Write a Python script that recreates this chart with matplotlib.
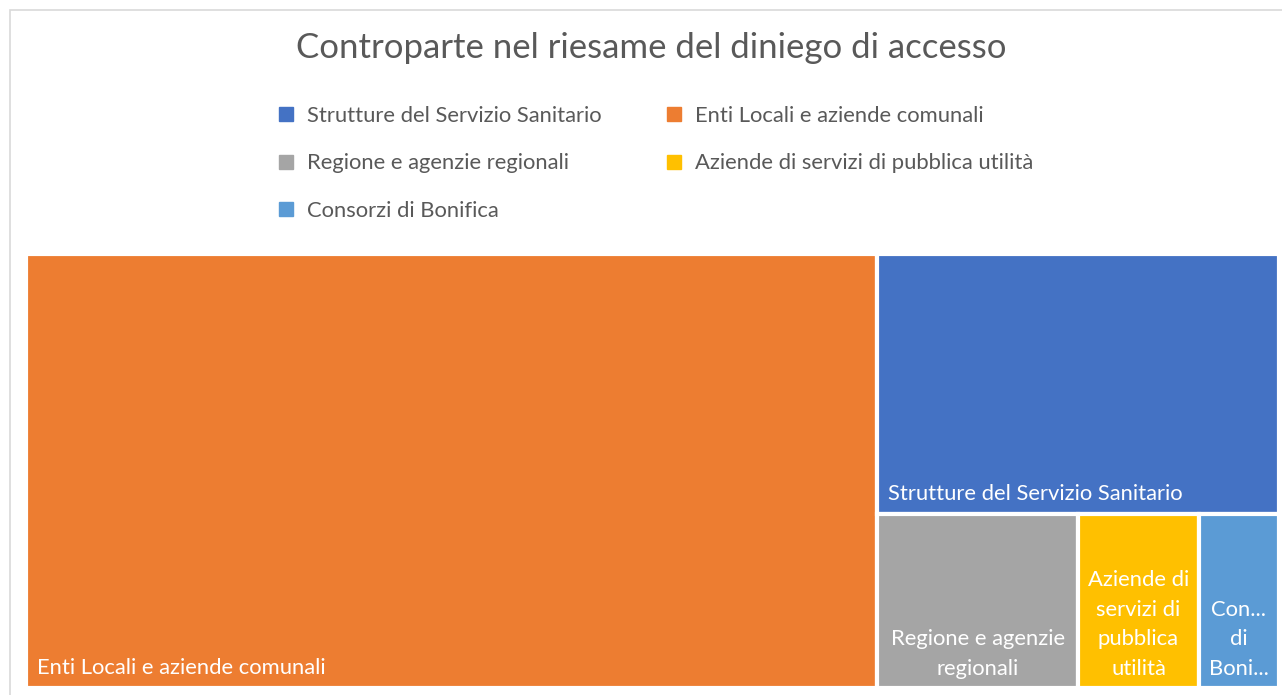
import matplotlib.pyplot as plt
import matplotlib.patches as mpatches
from matplotlib.lines import Line2D

# --- Dati ---
categorie = ["Enti Locali e aziende comunali", "Strutture del Servizio Sanitario",
             "Regione e agenzie regionali", "Aziende di servizi di pubblica utilità",
             "Consorzi di Bonifica"]
valori = [53, 15, 5, 3, 2]
colori = ["#ED7D31", "#4472C4", "#A5A5A5", "#FFC000", "#5B9BD5"]
# etichette come appaiono dentro i riquadri (testo troncato come nell'originale)
etichette = ["Enti Locali e aziende comunali", "Strutture del Servizio Sanitario",
             "Regione e agenzie\nregionali", "Aziende di\nservizi di\npubblica\nutilità",
             "Con...\ndi\nBoni..."]
ordine_legenda = [1, 0, 2, 3, 4]

TITOLO = "Controparte nel riesame del diniego di accesso"
FONT = "Lato"
GRIGIO = "#595959"


def slice_layout(vals, x, y, w, h):
    # il primo elemento prende una fetta lungo il lato più lungo, il resto ricorsivamente
    if not vals:
        return []
    if len(vals) == 1:
        return [(x, y, w, h)]
    tot = sum(vals)
    frac = vals[0] / tot
    if w >= h:
        fw = w * frac
        return [(x, y, fw, h)] + slice_layout(vals[1:], x + fw, y, w - fw, h)
    else:
        fh = h * frac
        # dall'alto verso il basso
        return [(x, y + h - fh, w, fh)] + slice_layout(vals[1:], x, y, w, h - fh)


fig = plt.figure(figsize=(12.82, 6.95), dpi=100)

# bordo del grafico
fig.patches.append(mpatches.Rectangle((10 / 1282, -0.05), 1.1, 1 - 10 / 695 + 0.05,
                                      transform=fig.transFigure, fill=False,
                                      edgecolor="#D9D9D9", linewidth=1.2))

fig.text(651 / 1282, 1 - 48 / 695, TITOLO, ha="center", va="center", fontsize=25,
         color=GRIGIO, family=FONT)

ax = fig.add_axes([26 / 1282, 1 - 688 / 695, (1279 - 26) / 1282, (688 - 254) / 695])
bbox = ax.get_position()
W = bbox.width * 12.82 * 100
H = bbox.height * 6.95 * 100
ax.set_xlim(0, W)
ax.set_ylim(0, H)
ax.axis("off")

rects = slice_layout(valori, 0, 0, W, H)
for i, (x, y, w, h) in enumerate(rects):
    ax.add_patch(mpatches.Rectangle((x, y), w, h, facecolor=colori[i],
                                    edgecolor="white", linewidth=3))
    if i < 2:
        ax.text(x + 11, y + 10, etichette[i], ha="left", va="bottom", fontsize=15.8,
                color="white", family=FONT)
    else:
        ax.text(x + w / 2, y + 9, etichette[i], ha="center", va="bottom", fontsize=15.8,
                color="white", family=FONT, linespacing=1.6, multialignment="center")

# legenda a due colonne (matplotlib riempie per colonna)
handles = [Line2D([], [], marker="s", linestyle="none", markersize=10,
                  markerfacecolor=colori[j], markeredgecolor=colori[j]) for j in ordine_legenda]
labels = [categorie[j] for j in ordine_legenda]
col_order = [0, 2, 4, 1, 3]
leg = fig.legend([handles[k] for k in col_order], [labels[k] for k in col_order],
                 ncol=2, loc="upper left", bbox_to_anchor=(264 / 1282, 1 - 95 / 695),
                 frameon=False, fontsize=15.8, labelspacing=1.25, columnspacing=2.8,
                 handletextpad=0.45, handlelength=1.0, borderpad=0)
for t in leg.get_texts():
    t.set_color(GRIGIO)
    t.set_family(FONT)

fig.savefig("out.png", dpi=100)
